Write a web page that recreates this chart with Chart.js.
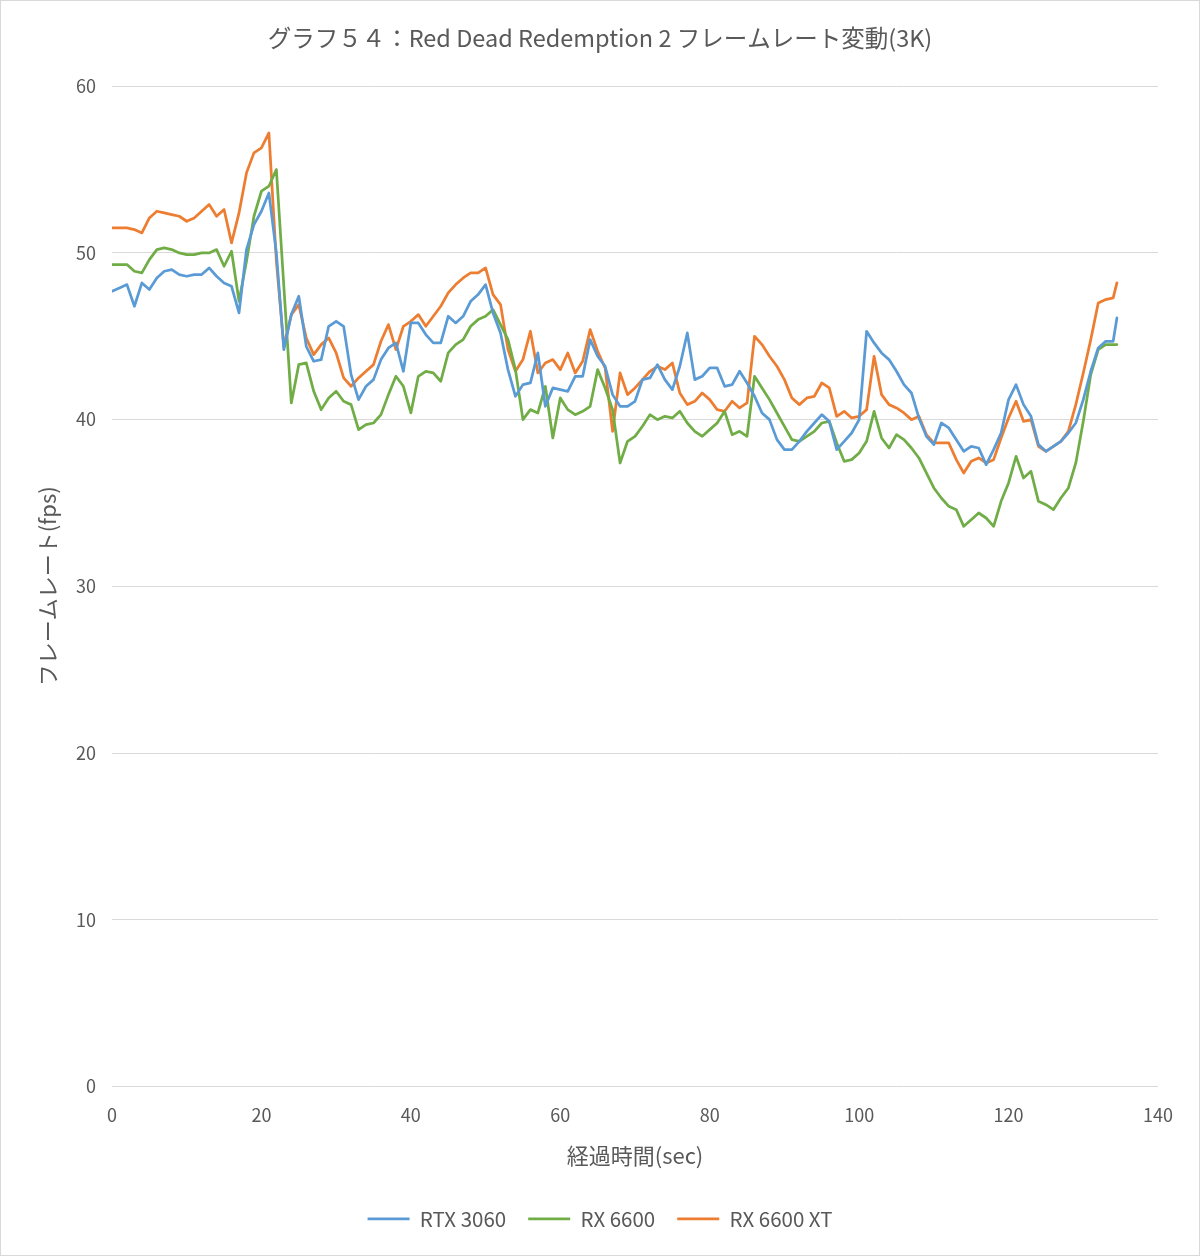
<!DOCTYPE html>
<html lang="ja">
<head>
<meta charset="utf-8">
<title>グラフ５４：Red Dead Redemption 2 フレームレート変動(3K)</title>
<script src="https://cdn.jsdelivr.net/npm/chart.js@4.4.1/dist/chart.umd.min.js"></script>
<style>
    html, body { margin: 0; padding: 0; background: #fff; }
    .chart-wrap { position: relative; width: 1200px; height: 1256px; }
</style>
</head>
<body>
<div class="chart-wrap"><canvas id="fpsChart"></canvas></div>
<script>
// 経過時間 (sec) - 1秒ごとに読み取り、最後は 134.5 秒
const times = [];
for (let t = 0; t <= 134; t++) times.push(t);
times.push(134.5);

// フレームレート (fps)
const rtx3060 = [
    47.7, 47.9, 48.1, 46.8, 48.2, 47.8, 48.5, 48.9, 49.0, 48.7,
    48.6, 48.7, 48.7, 49.1, 48.6, 48.2, 48.0, 46.4, 50.2, 51.7,
    52.5, 53.6, 50.0, 44.2, 46.3, 47.4, 44.4, 43.5, 43.6, 45.6,
    45.9, 45.6, 42.7, 41.2, 42.0, 42.4, 43.6, 44.3, 44.6, 42.9,
    45.8, 45.8, 45.1, 44.6, 44.6, 46.2, 45.8, 46.2, 47.1, 47.5,
    48.1, 46.4, 45.2, 43.0, 41.4, 42.1, 42.2, 44.0, 40.8, 41.9,
    41.8, 41.7, 42.6, 42.6, 44.8, 43.8, 43.2, 41.5, 40.8, 40.8,
    41.1, 42.4, 42.5, 43.3, 42.4, 41.8, 43.2, 45.2, 42.4, 42.6,
    43.1, 43.1, 42.0, 42.1, 42.9, 42.2, 41.4, 40.4, 40.0, 38.8,
    38.2, 38.2, 38.7, 39.3, 39.8, 40.3, 39.9, 38.2, 38.7, 39.2,
    40.0, 45.3, 44.6, 44.0, 43.6, 42.9, 42.1, 41.6, 40.1, 39.0,
    38.5, 39.8, 39.5, 38.8, 38.1, 38.4, 38.3, 37.3, 38.2, 39.2,
    41.2, 42.1, 40.9, 40.2, 38.5, 38.1, 38.4, 38.7, 39.2, 39.8,
    41.2, 42.9, 44.3, 44.7, 44.7, 46.1
];
const rx6600 = [
    49.3, 49.3, 49.3, 48.9, 48.8, 49.6, 50.2, 50.3, 50.2, 50.0,
    49.9, 49.9, 50.0, 50.0, 50.2, 49.2, 50.1, 47.1, 49.5, 52.2,
    53.7, 54.0, 55.0, 48.0, 41.0, 43.3, 43.4, 41.7, 40.6, 41.3,
    41.7, 41.1, 40.9, 39.4, 39.7, 39.8, 40.3, 41.5, 42.6, 42.0,
    40.4, 42.6, 42.9, 42.8, 42.3, 44.0, 44.5, 44.8, 45.6, 46.0,
    46.2, 46.6, 45.7, 44.8, 43.0, 40.0, 40.6, 40.4, 42.0, 38.9,
    41.3, 40.6, 40.3, 40.5, 40.8, 43.0, 41.9, 40.6, 37.4, 38.7,
    39.0, 39.6, 40.3, 40.0, 40.2, 40.1, 40.5, 39.8, 39.3, 39.0,
    39.4, 39.8, 40.5, 39.1, 39.3, 39.0, 42.6, 41.9, 41.2, 40.4,
    39.6, 38.8, 38.7, 39.0, 39.3, 39.8, 39.9, 38.6, 37.5, 37.6,
    38.0, 38.7, 40.5, 38.9, 38.3, 39.1, 38.8, 38.3, 37.7, 36.8,
    35.9, 35.3, 34.8, 34.6, 33.6, 34.0, 34.4, 34.1, 33.6, 35.1,
    36.2, 37.8, 36.5, 36.9, 35.1, 34.9, 34.6, 35.3, 35.9, 37.4,
    39.9, 42.7, 44.2, 44.5, 44.5, 44.5
];
const rx6600xt = [
    51.5, 51.5, 51.5, 51.4, 51.2, 52.1, 52.5, 52.4, 52.3, 52.2,
    51.9, 52.1, 52.5, 52.9, 52.2, 52.6, 50.6, 52.4, 54.8, 56.0,
    56.3, 57.2, 49.5, 44.4, 46.3, 46.9, 44.9, 43.9, 44.5, 44.9,
    44.0, 42.5, 42.0, 42.5, 42.9, 43.3, 44.7, 45.7, 44.2, 45.6,
    45.9, 46.3, 45.6, 46.2, 46.8, 47.6, 48.1, 48.5, 48.8, 48.8,
    49.1, 47.5, 46.9, 44.2, 42.9, 43.6, 45.3, 42.8, 43.4, 43.6,
    43.0, 44.0, 42.8, 43.5, 45.4, 44.1, 43.1, 39.3, 42.8, 41.5,
    41.9, 42.4, 42.9, 43.2, 43.0, 43.4, 41.6, 40.9, 41.1, 41.6,
    41.2, 40.6, 40.5, 41.1, 40.7, 41.0, 45.0, 44.5, 43.8, 43.2,
    42.4, 41.3, 40.9, 41.3, 41.4, 42.2, 41.9, 40.2, 40.5, 40.1,
    40.2, 40.6, 43.8, 41.5, 40.9, 40.7, 40.4, 40.0, 40.2, 39.1,
    38.6, 38.6, 38.6, 37.6, 36.8, 37.5, 37.7, 37.4, 37.6, 38.9,
    40.1, 41.1, 39.9, 40.0, 38.4, 38.1, 38.4, 38.7, 39.3, 40.9,
    42.8, 44.8, 47.0, 47.2, 47.3, 48.2
];

const FONT = '"Noto Sans CJK JP", "Noto Sans", sans-serif';
const TEXT_COLOR = '#595959';
const GRID_COLOR = '#d9d9d9';

function makeSet(label, values, color) {
    return {
        label: label,
        data: times.map((t, i) => ({ x: t, y: values[i] })),
        borderColor: color,
        backgroundColor: color,
        borderWidth: 2.75,
        pointRadius: 0,
        tension: 0,
        borderJoinStyle: 'round',
        borderCapStyle: 'round'
    };
}

// 白背景と外枠
const frameBorder = {
    id: 'frameBorder',
    beforeDraw(chart) {
        const { ctx, width, height } = chart;
        ctx.save();
        ctx.fillStyle = '#ffffff';
        ctx.fillRect(0, 0, width, height);
        ctx.strokeStyle = GRID_COLOR;
        ctx.lineWidth = 1;
        ctx.strokeRect(0.5, 0.5, width - 1, height - 1);
        ctx.restore();
    }
};

const ctx = document.getElementById('fpsChart').getContext('2d');
new Chart(ctx, {
    type: 'line',
    data: {
        datasets: [
            makeSet('RTX 3060', rtx3060, '#5b9bd5'),
            makeSet('RX 6600', rx6600, '#70ad47'),
            makeSet('RX 6600 XT', rx6600xt, '#ed7d31')
        ]
    },
    options: {
        responsive: true,
        maintainAspectRatio: false,
        animation: false,
        layout: { padding: { left: 0, right: 0, top: 0, bottom: 17 } },
        plugins: {
            title: {
                display: true,
                text: 'グラフ５４：Red Dead Redemption 2 フレームレート変動(3K)',
                color: TEXT_COLOR,
                font: { family: FONT, size: 23.5, weight: 'normal' },
                padding: { top: 24, bottom: 34 }
            },
            legend: {
                position: 'bottom',
                labels: {
                    color: TEXT_COLOR,
                    font: { family: FONT, size: 20.5 },
                    usePointStyle: true,
                    pointStyle: 'line',
                    pointStyleWidth: 42,
                    padding: 22
                }
            },
            tooltip: { enabled: false }
        },
        scales: {
            x: {
                type: 'linear',
                min: 0,
                max: 140,
                ticks: {
                    stepSize: 20,
                    color: TEXT_COLOR,
                    font: { family: FONT, size: 18 },
                    padding: 18
                },
                grid: { display: false, drawTicks: false },
                border: { display: false },
                title: {
                    display: true,
                    text: '経過時間(sec)',
                    color: TEXT_COLOR,
                    font: { family: FONT, size: 22 },
                    padding: { top: 0, bottom: 18 }
                },
                afterFit(scale) { scale.height = 100; }
            },
            y: {
                min: 0,
                max: 60,
                ticks: {
                    stepSize: 10,
                    color: TEXT_COLOR,
                    font: { family: FONT, size: 18 },
                    padding: 16
                },
                grid: { color: GRID_COLOR, lineWidth: 1, drawTicks: false },
                border: { display: false },
                title: {
                    display: true,
                    text: 'フレームレート(fps)',
                    color: TEXT_COLOR,
                    font: { family: FONT, size: 22 },
                    padding: { top: 34, bottom: 0 }
                },
                afterFit(scale) { scale.width = 112; }
            },
            // 右側の余白用 (表示なし)
            yRight: {
                position: 'right',
                min: 0,
                max: 60,
                ticks: { display: false },
                grid: { display: false, drawTicks: false },
                border: { display: false },
                afterFit(scale) { scale.width = 42; }
            }
        }
    },
    plugins: [frameBorder]
});
</script>
</body>
</html>
